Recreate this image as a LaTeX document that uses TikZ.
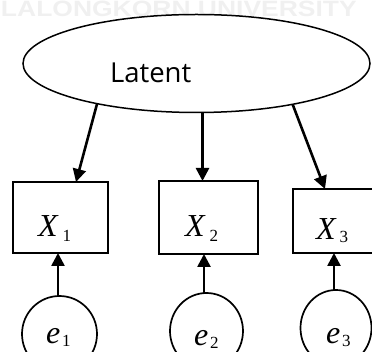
\documentclass[tikz,border=0pt]{standalone}
\usepackage{fontspec}
\setmainfont{Liberation Serif}
\newfontfamily\labelsans{Open Sans}
\newfontfamily\marksans{Liberation Sans}
\usetikzlibrary{arrows.meta,shapes.geometric}

\tikzset{
  every node/.style={inner sep=0pt, outer sep=0pt},
  latentnode/.style={ellipse, draw, line width=1.5pt,
    minimum width=347pt, minimum height=98pt},
  obsbox/.style={rectangle, draw, line width=2pt},
  errnode/.style={ellipse, draw, line width=1.7pt},
  varlabel/.style={anchor=base west, font=\fontsize{32}{32}\selectfont},
  load/.style={line width=2.6pt, -{Triangle[length=13pt,width=13pt]}},
}

% italic letter with an upright subscript, as an equation editor sets it
\newcommand{\symsub}[4]{\textit{#1}\hspace{#3}\raisebox{#4}{\fontsize{17}{17}\selectfont #2}}

\begin{document}
\begin{tikzpicture}[x=1pt, y=-1pt]
  \useasboundingbox (0,0) rectangle (372,352);
  \clip (0,0) rectangle (372,352);

  % faint page header
  \node[anchor=base west, text=black!6] (hdr) at (1,17)
    {\marksans\bfseries\fontsize{27}{27}\selectfont\scalebox{0.98}[0.82]{LALONGKORN UNIVERSITY}};

  % latent factor
  \node[latentnode] (lat) at (196.5,63.5) {};
  \node[anchor=base west, font=\labelsans\fontsize{27.5}{27.5}\selectfont] (latlbl) at (110,83) {Latent};

  % observed indicators
  \node[obsbox, minimum width=95pt, minimum height=71pt] (x1) at (60.5,217.5) {};
  \node[obsbox, minimum width=99pt, minimum height=73pt] (x2) at (208.5,217.5) {};
  \node[obsbox, minimum width=96pt, minimum height=64pt] (x3) at (341,221) {};

  \node[varlabel] (x1lbl) at (38,237) {\symsub{X}{1}{4pt}{-5pt}};
  \node[varlabel] (x2lbl) at (185,237) {\symsub{X}{2}{4pt}{-5pt}};
  \node[varlabel] (x3lbl) at (316,240) {\symsub{X}{3}{3pt}{-3pt}};

  % error terms
  \node[errnode, minimum width=75pt, minimum height=76pt] (e1) at (59.5,334) {};
  \node[errnode, minimum width=73pt, minimum height=76pt] (e2) at (206.5,331) {};
  \node[errnode, minimum width=71pt, minimum height=76pt] (e3) at (336,328) {};

  \node[varlabel] (e1lbl) at (46,344) {\symsub{e}{1}{2pt}{-3pt}};
  \node[varlabel] (e2lbl) at (194,345) {\symsub{e}{2}{2pt}{-3pt}};
  \node[varlabel] (e3lbl) at (326,344) {\symsub{e}{3}{2pt}{-3pt}};

  % factor loadings
  \draw[load] (lat.202) -- ([xshift=15.5pt]x1.north);
  \draw[load] (lat.277) -- (lat.277 |- x2.north);
  \draw[load] (lat.337) -- ([xshift=-16pt]x3.north);

  % error paths
  \draw[load] ([xshift=-1.5pt]e1.north) -- ([xshift=-1.5pt]e1.north |- x1.south);
  \draw[load] ([xshift=-2.5pt]e2.north) -- ([xshift=-2.5pt]e2.north |- x2.south);
  \draw[load] ([xshift=-2pt]e3.north) -- ([xshift=-2pt]e3.north |- x3.south);
\end{tikzpicture}
\end{document}
